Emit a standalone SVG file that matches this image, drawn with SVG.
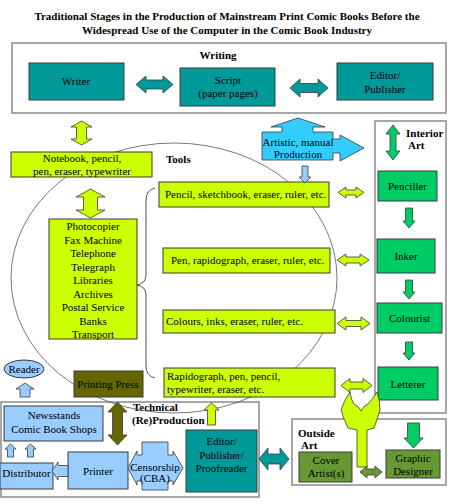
<svg xmlns="http://www.w3.org/2000/svg" width="451" height="504" viewBox="0 0 451 504">
<style>
text{font-family:"Liberation Serif","Times New Roman",serif;font-size:11px;fill:#000}
.c{text-anchor:middle}
.b{font-weight:bold}
.t{font-size:11px}
.box{stroke:#3a3a3a;stroke-width:1}
.cont{fill:#fff;stroke:#8a8a8a;stroke-width:1.5}
.teal{fill:#009999}
.yel{fill:#ccff00}
.grn{fill:#00cc66}
.lb{fill:#99ccff}
.olv{fill:#669933}
.dol{fill:#666600}
.ar{stroke:#3a3a3a;stroke-width:0.8}
</style>
<rect width="451" height="504" fill="#fff"/>
<g id="title">
<text class="c b" x="227" y="20" font-size="11.5">Traditional Stages in the Production of Mainstream Print Comic Books Before the</text>
<text class="c b" x="227" y="34" font-size="11.5">Widespread Use of the Computer in the Comic Book Industry</text>
</g>
<g id="containers">
<rect id="writing" class="cont" x="12" y="43" width="434" height="70"/>
<text class="c b" x="218" y="59">Writing</text>
<rect id="interior-art" class="cont" x="375" y="121" width="71" height="292"/>
<text class="b" x="406" y="137" font-size="10.5">Interior</text>
<text class="b" x="408" y="149" font-size="10.5">Art</text>
<rect id="technical" class="cont" x="1" y="402" width="258" height="95"/>
<text class="b" x="133" y="411">Technical</text>
<text class="b" x="132" y="424">(Re)Production</text>
<rect id="outside-art" class="cont" x="292" y="419" width="154" height="66"/>
<text class="b" x="298" y="437" font-size="10.5">Outside</text>
<text class="b" x="301" y="449" font-size="10.5">Art</text>
</g>
<g id="tools-ellipse">
<ellipse cx="174" cy="278" rx="163" ry="135" fill="none" stroke="#555" stroke-width="0.8"/>
<text class="b" x="166" y="163">Tools</text>
<path d="M155,188 Q146,190 146,200 L146,275 Q146,284 136,285 Q146,286 146,295 L146,366 Q146,376 155,378" fill="none" stroke="#555" stroke-width="1"/>
</g>
<g id="writer"><rect class="box teal" x="29" y="63" width="95" height="37"/><text class="c" x="76" y="85">Writer</text></g>
<g id="script"><rect class="box teal" x="180" y="68" width="95" height="38"/><text class="c" x="228" y="84">Script</text><text class="c" x="228" y="97">(paper pages)</text></g>
<g id="editor"><rect class="box teal" x="337" y="63" width="96" height="37"/><text class="c" x="385" y="79">Editor/</text><text class="c" x="385" y="93">Publisher</text></g>
<g id="notebook"><rect class="box yel" x="11" y="152" width="141" height="25"/><text class="c" x="82" y="162">Notebook, pencil,</text><text class="c" x="82" y="175">pen, eraser, typewriter</text></g>
<g id="communication"><rect class="box yel" x="49" y="219" width="88" height="120"/>
<text class="c" x="93" y="230">Photocopier</text>
<text class="c" x="93" y="243.5">Fax Machine</text>
<text class="c" x="93" y="257">Telephone</text>
<text class="c" x="93" y="270.5">Telegraph</text>
<text class="c" x="93" y="284">Libraries</text>
<text class="c" x="93" y="297.5">Archives</text>
<text class="c" x="93" y="311">Postal Service</text>
<text class="c" x="93" y="324.5">Banks</text>
<text class="c" x="93" y="338">Transport</text></g>
<g id="artistic"><polygon class="ar" fill="#33ccff" points="262,132 282,132 282,127 271,127 298,118 325,127 313,127 313,132 333,132 333,139 340,139 340,135 364,148 340,161 340,153 333,153 333,160 262,160"/><text class="c" x="298" y="146" font-size="10.5">Artistic, manual</text><text class="c" x="298" y="158" font-size="10.5">Production</text></g>
<g id="tool-pencil"><rect class="box yel" x="159" y="182" width="170" height="25"/><text class="t" x="165" y="198">Pencil, sketchbook, eraser, ruler, etc.</text></g>
<g id="tool-pen"><rect class="box yel" x="163" y="248" width="167" height="25"/><text class="t" x="171" y="264">Pen, rapidograph, eraser, ruler, etc.</text></g>
<g id="tool-colours"><rect class="box yel" x="163" y="310" width="172" height="23"/><text class="t" x="166" y="325">Colours, inks, eraser, ruler, etc.</text></g>
<g id="tool-letter"><rect class="box yel" x="164" y="368" width="171" height="29"/><text class="t" x="167" y="380">Rapidograph, pen, pencil,</text><text class="t" x="167" y="393">typewriter, eraser, etc.</text></g>
<g id="penciller"><rect class="box grn" x="378" y="171" width="59" height="30"/><text class="c" x="407.5" y="190">Penciller</text></g>
<g id="inker"><rect class="box grn" x="377" y="239" width="58" height="34"/><text class="c" x="406" y="260">Inker</text></g>
<g id="colourist"><rect class="box grn" x="377" y="303" width="65" height="30"/><text class="c" x="409.5" y="322">Colourist</text></g>
<g id="letterer"><rect class="box grn" x="378" y="367" width="60" height="33"/><text class="c" x="408" y="388">Letterer</text></g>
<g id="cover"><rect class="box olv" x="299" y="452" width="53" height="30"/><text class="c" x="326" y="464">Cover</text><text class="c" x="326" y="477">Artist(s)</text></g>
<g id="graphic"><rect class="box olv" x="386" y="450" width="54" height="28"/><text class="c" x="413" y="462">Graphic</text><text class="c" x="413" y="475">Designer</text></g>
<g id="reader"><ellipse cx="24" cy="369" rx="20" ry="9" class="box lb"/><text class="c" x="24" y="373" font-size="10.5">Reader</text></g>
<g id="printing-press"><rect class="box dol" x="74" y="371" width="69" height="26"/><text class="c" x="108" y="388">Printing Press</text></g>
<g id="newsstands"><rect class="box lb" x="4" y="406" width="99" height="35"/><text class="c" x="54" y="419">Newsstands</text><text class="c" x="54" y="433">Comic Book Shops</text></g>
<g id="printer"><rect class="box lb" x="68" y="452" width="60" height="37"/><text class="c" x="98" y="475">Printer</text></g>
<g id="distributor"><rect class="box lb" x="0" y="463" width="53" height="26"/><text class="c" x="26.5" y="477">Distributor</text></g>
<g id="censorship"><polygon class="ar lb" points="142,442 168,442 168,455 173,455 173,451 183,468 173,485 173,481 168,481 168,490 142,490 142,481 137,481 137,485 128,468 137,451 137,455 142,455"/><text class="c" x="155" y="471" font-size="9.5">Censorship</text><text class="c" x="155" y="482" font-size="9.5">(CBA)</text></g>
<g id="editor-proof"><rect class="box teal" x="186" y="430" width="71" height="62"/><text class="c" x="221.5" y="445">Editor/</text><text class="c" x="221.5" y="458.5">Publisher/</text><text class="c" x="221.5" y="472">Proofreader</text></g>
<g id="connectors">
<polygon class="ar teal" points="136,84.5 146,76 146,80 163,80 163,76 173,84.5 163,93 163,89 146,89 146,93"/>
<polygon class="ar teal" points="290,88 300,79 300,83.5 318,83.5 318,79 328,88 318,97 318,92.5 300,92.5 300,97"/>
<polygon class="ar yel" points="81.5,121 92,127 86.5,127 86.5,139 92,139 81.5,145 71,139 76.5,139 76.5,127 71,127"/>
<polygon class="ar yel" points="90.5,189 105,197 97.5,197 97.5,210 105,210 90.5,218 76,210 83.5,210 83.5,197 76,197"/>
<polygon class="ar lb" points="302,166 308,166 308,177 311,177 305,183 299,177 302,177"/>
<polygon class="ar yel" points="338,192.5 346,187 346,190 356,190 356,187 364,192.5 356,198 356,195 346,195 346,198"/>
<polygon class="ar yel" points="337,260 346,254 346,257 360,257 360,254 369,260 360,266 360,263 346,263 346,266"/>
<polygon class="ar yel" points="337,323.5 346,317 346,320.5 361,320.5 361,317 370,323.5 361,330 361,326.5 346,326.5 346,330"/>
<polygon class="ar yel" points="341,385.5 350,378.5 350,382 363,382 363,378.5 372,385.5 363,392.5 363,389 350,389 350,392.5"/>
<polygon class="ar grn" points="393,125 400,134 396,134 396,151 400,151 393,160 386,151 390,151 390,134 386,134"/>
<polygon class="ar grn" points="405.5,208 412.5,208 412.5,221 415,221 409,228 403,221 405.5,221"/>
<polygon class="ar grn" points="405.5,280 412.5,280 412.5,292 415,292 409,299 403,292 405.5,292"/>
<polygon class="ar grn" points="405.5,342 412.5,342 412.5,353 415,353 409,360 403,353 405.5,353"/>
<polygon class="ar grn" points="407.5,423 419.5,423 419.5,438 423,438 413.5,448 404,438 407.5,438"/>
<path class="ar yel" d="M357,467 L367,467 L367,430 L374,428 Q377,420 380,410 Q380,400 377,392 Q372,400 368,404 Q363,406 361,411 Q359,406 354,404 Q351,400 350,392 Q344,400 341,410 Q344,420 348,428 L357,430 Z"/>
<polygon class="ar olv" points="360,472 367,466 367,469 375,469 375,466 382,472 375,478 375,475 367,475 367,478"/>
<polygon class="ar teal" points="259,459 268,448 268,454 280,454 280,448 289,459 280,470 280,464 268,464 268,470"/>
<polygon class="ar yel" points="211.5,403 219,410 215.5,410 215.5,425 207.5,425 207.5,410 204,410"/>
<polygon class="ar dol" points="117.5,402 127,412 122.5,412 122.5,435 127,435 117.5,445 108,435 112.5,435 112.5,412 108,412"/>
<polygon class="ar lb" points="25,383 34,389 30,389 30,397 20,397 20,389 16,389"/>
<polygon class="ar lb" points="10.5,444 16,449 13.5,449 13.5,457 7.5,457 7.5,449 5,449"/>
<polygon class="ar lb" points="30.5,444 36,449 33.5,449 33.5,457 27.5,457 27.5,449 25,449"/>
<polygon class="ar lb" points="52,471 58,462 58,465.5 68,465.5 68,476.5 58,476.5 58,480"/>
</g>
</svg>
